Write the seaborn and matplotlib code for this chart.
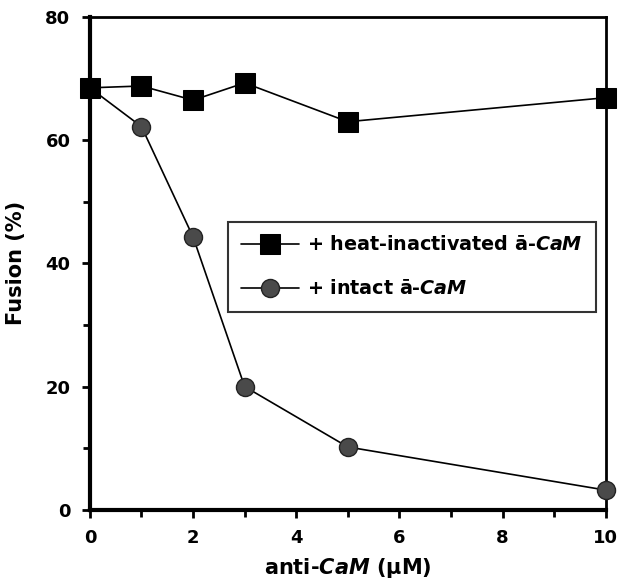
import matplotlib
matplotlib.use("Agg")
import matplotlib.pyplot as plt
import seaborn as sns
import pandas as pd
from matplotlib.ticker import MultipleLocator

# data
conc = [0, 1, 2, 3, 5, 10]
heat_inactivated = [68.5, 68.8, 66.5, 69.3, 63.0, 66.9]
intact = [68.5, 62.2, 44.3, 20.0, 10.2, 3.2]
series_names = ["+ heat-inactivated ā-$\\mathbfit{CaM}$", "+ intact ā-$\\mathbfit{CaM}$"]

sns.set_theme(style="ticks")
plt.rcParams['font.family'] = ['DejaVu Sans']
plt.rcParams['mathtext.fontset'] = 'dejavusans'
plt.rcParams['text.color'] = 'black'
plt.rcParams['axes.labelcolor'] = 'black'
plt.rcParams['xtick.color'] = 'black'
plt.rcParams['ytick.color'] = 'black'

df = pd.DataFrame({
    "conc": conc * 2,
    "fusion": heat_inactivated + intact,
    "series": [series_names[0]] * len(conc) + [series_names[1]] * len(conc),
})

fig = plt.figure(figsize=(6.2, 5.86), dpi=100)
ax = fig.add_axes([0.145, 0.130, 0.832, 0.841])

# intact first (drawn beneath)
sns.lineplot(data=df[df.series == series_names[1]], x="conc", y="fusion",
             color="black", lw=1.2, marker="o", markersize=13,
             markerfacecolor="#4a4a4a", markeredgecolor="#222222", markeredgewidth=1,
             ax=ax, legend=False, zorder=3)
sns.lineplot(data=df[df.series == series_names[0]], x="conc", y="fusion",
             color="black", lw=1.2, marker="s", markersize=14,
             markerfacecolor="black", markeredgecolor="black",
             ax=ax, legend=False, zorder=4)

lines = ax.get_lines()
handles = [lines[1], lines[0]]
leg = ax.legend(handles, series_names, loc="upper left",
                bbox_to_anchor=(0.267, 0.584), frameon=True, fancybox=False,
                edgecolor="black", handlelength=3.0, handletextpad=0.45,
                labelspacing=1.3, borderpad=0.7, borderaxespad=0,
                prop={"weight": "bold", "size": 13.8})
leg.get_frame().set_linewidth(1.5)
for t in leg.get_texts():
    t.set_color("black")

ax.set_xlim(0, 10)
ax.set_ylim(0, 80)
ax.xaxis.set_major_locator(MultipleLocator(2))
ax.xaxis.set_minor_locator(MultipleLocator(1))
ax.yaxis.set_major_locator(MultipleLocator(20))
ax.yaxis.set_minor_locator(MultipleLocator(10))

for s in ["left", "bottom"]:
    ax.spines[s].set_linewidth(3)
for s in ["top", "right"]:
    ax.spines[s].set_linewidth(2)
    ax.spines[s].set_visible(True)
for s in ax.spines.values():
    s.set_color("black")

ax.tick_params(which="major", direction="out", length=6, width=2, colors="black",
               labelsize=13, pad=8)
ax.tick_params(which="minor", direction="out", length=5, width=2, colors="black")
for lab in ax.get_xticklabels() + ax.get_yticklabels():
    lab.set_fontweight("bold")

ax.set_xlabel("anti-$\\mathbfit{CaM}$ ($\\mathbf{\\mu}$M)", fontsize=15, fontweight="bold",
              labelpad=6, color="black")
ax.set_ylabel("Fusion (%)", fontsize=15, fontweight="bold", labelpad=14, color="black")
ax.set_facecolor("white")
ax.grid(False)

for l in ax.get_lines():
    l.set_clip_on(False)

fig.savefig("out.png", dpi=100, facecolor="white")
